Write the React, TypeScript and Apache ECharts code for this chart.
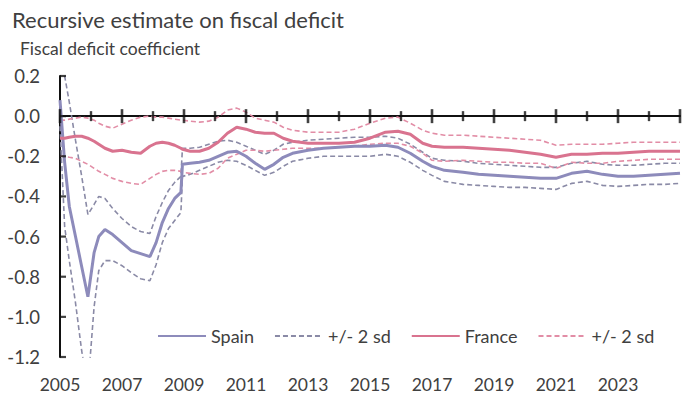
import React, { useEffect, useRef } from "react";
import * as echarts from "echarts";

const years = [2005.0, 2005.15, 2005.3, 2005.5, 2005.7, 2005.9, 2006.1, 2006.25, 2006.45, 2006.7, 2007.0, 2007.3, 2007.6, 2007.9, 2008.1, 2008.3, 2008.5, 2008.7, 2008.9, 2008.95, 2009.2, 2009.5, 2009.8, 2010.1, 2010.4, 2010.7, 2011.0, 2011.3, 2011.6, 2011.9, 2012.2, 2012.5, 2013.0, 2013.5, 2014.0, 2014.5, 2015.0, 2015.5, 2015.9, 2016.3, 2016.7, 2017.0, 2017.4, 2018.0, 2018.5, 2019.0, 2019.5, 2020.0, 2020.5, 2021.0, 2021.5, 2022.0, 2022.5, 2023.0, 2023.5, 2024.0, 2024.5, 2025.0];

const spain = [0.08, -0.23, -0.45, -0.6, -0.75, -0.9, -0.68, -0.6, -0.565, -0.59, -0.63, -0.67, -0.685, -0.7, -0.63, -0.53, -0.46, -0.41, -0.38, -0.24, -0.235, -0.23, -0.22, -0.2, -0.18, -0.175, -0.2, -0.235, -0.265, -0.24, -0.205, -0.185, -0.17, -0.16, -0.155, -0.15, -0.15, -0.145, -0.155, -0.185, -0.225, -0.25, -0.27, -0.28, -0.29, -0.295, -0.3, -0.305, -0.31, -0.31, -0.285, -0.275, -0.29, -0.3, -0.3, -0.295, -0.29, -0.285];

const spainUpper = [0.4, 0.2, 0.07, -0.12, -0.3, -0.49, -0.44, -0.4, -0.41, -0.46, -0.51, -0.55, -0.575, -0.585, -0.5, -0.43, -0.37, -0.33, -0.3, -0.16, -0.16, -0.155, -0.14, -0.125, -0.12, -0.13, -0.15, -0.17, -0.19, -0.17, -0.14, -0.13, -0.12, -0.115, -0.11, -0.105, -0.105, -0.1, -0.11, -0.14, -0.18, -0.21, -0.22, -0.225, -0.235, -0.24, -0.245, -0.25, -0.255, -0.255, -0.235, -0.225, -0.24, -0.245, -0.245, -0.24, -0.235, -0.235];

const spainLower = [-0.05, -0.55, -0.72, -0.93, -1.17, -1.35, -0.95, -0.77, -0.72, -0.72, -0.745, -0.78, -0.81, -0.82, -0.74, -0.63, -0.56, -0.52, -0.48, -0.3, -0.29, -0.27, -0.25, -0.23, -0.22, -0.225, -0.245, -0.27, -0.295, -0.28, -0.25, -0.225, -0.21, -0.2, -0.2, -0.2, -0.2, -0.19, -0.2, -0.23, -0.27, -0.295, -0.325, -0.34, -0.345, -0.35, -0.355, -0.355, -0.36, -0.365, -0.335, -0.325, -0.345, -0.35, -0.345, -0.34, -0.34, -0.335];

const france = [-0.11, -0.11, -0.105, -0.1, -0.1, -0.11, -0.125, -0.14, -0.16, -0.175, -0.17, -0.18, -0.185, -0.15, -0.135, -0.13, -0.135, -0.145, -0.16, -0.165, -0.175, -0.175, -0.16, -0.13, -0.085, -0.055, -0.065, -0.08, -0.085, -0.085, -0.11, -0.125, -0.135, -0.135, -0.135, -0.13, -0.11, -0.08, -0.075, -0.09, -0.135, -0.15, -0.155, -0.155, -0.16, -0.165, -0.17, -0.18, -0.19, -0.205, -0.19, -0.19, -0.185, -0.185, -0.18, -0.175, -0.175, -0.175];

const franceUpper = [-0.02, -0.02, -0.015, -0.01, -0.005, -0.01, -0.02, -0.035, -0.05, -0.06, -0.04, -0.02, -0.005, 0.0, -0.005, -0.005, -0.01, -0.015, -0.02, -0.02, -0.025, -0.03, -0.025, -0.005, 0.03, 0.04, 0.02, -0.01, -0.02, -0.03, -0.055, -0.07, -0.08, -0.08, -0.08, -0.065, -0.035, -0.01, -0.005, -0.035, -0.07, -0.085, -0.095, -0.095, -0.1, -0.105, -0.11, -0.115, -0.12, -0.145, -0.14, -0.14, -0.14, -0.135, -0.13, -0.13, -0.13, -0.13];

const franceLower = [-0.2, -0.2, -0.205, -0.21, -0.225, -0.24, -0.26, -0.275, -0.29, -0.31, -0.325, -0.335, -0.34, -0.31, -0.29, -0.275, -0.27, -0.27, -0.275, -0.28, -0.285, -0.29, -0.285, -0.26, -0.21, -0.19, -0.17, -0.17, -0.175, -0.17, -0.165, -0.16, -0.16, -0.16, -0.155, -0.15, -0.14, -0.135, -0.135, -0.15, -0.185, -0.22, -0.225, -0.22, -0.225, -0.23, -0.23, -0.235, -0.235, -0.26, -0.23, -0.235, -0.235, -0.225, -0.22, -0.215, -0.215, -0.215];

// yearly tick marks on the zero line: labelled (odd) years get long ticks, even years short ones
const majorTickYears = [2005, 2007, 2009, 2011, 2013, 2015, 2017, 2019, 2021, 2023, 2025];
const minorTickYears = [2006, 2008, 2010, 2012, 2014, 2016, 2018, 2020, 2022, 2024];
// y-axis tick values
const yTicks = [-1.2, -1.0, -0.8, -0.6, -0.4, -0.2, 0.0, 0.2];

const X_MIN = 2005;
const X_MAX = 2025;
const Y_MIN = -1.2;
const Y_MAX = 0.2;

const FONT = "Lato";
const TEXT = "#404040";
const AXIS_C = "#111";
const SPAIN_C = "#8D8BBB";
const SPAIN_BAND_C = "#8A8AA6";
const FRANCE_C = "#D9738F";
const FRANCE_BAND_C = "#E28DA6";

const pairs = (vals: number[]) => vals.map((v, i) => [years[i], v]);

export default function App() {
  const ref = useRef<HTMLDivElement>(null);
  useEffect(() => {
    if (!ref.current) return;
    const chart = echarts.init(ref.current, undefined, { renderer: "svg" });
    const dashed = (name: string, data: number[], color: string) => ({
      name,
      type: "line",
      data: pairs(data),
      symbol: "none",
      lineStyle: { color, width: 1.6, type: [5, 3] },
      itemStyle: { color },
      z: 2,
    });
    const solid = (name: string, data: number[], color: string) => ({
      name,
      type: "line",
      data: pairs(data),
      symbol: "none",
      lineStyle: { color, width: 3 },
      itemStyle: { color },
      z: 3,
    });
    const tickMarks = (data: number[][], size: number[], offset: number[]) => ({
      type: "scatter",
      silent: true,
      clip: false,
      z: 5,
      symbol: "rect",
      symbolSize: size,
      symbolOffset: offset,
      itemStyle: { color: AXIS_C },
      data,
    });
    chart.setOption({
      animation: false,
      title: [
        {
          text: "Recursive estimate on fiscal deficit",
          left: 7,
          top: 3,
          textStyle: { fontFamily: FONT, fontSize: 22, fontWeight: "normal", color: TEXT },
        },
        {
          text: "Fiscal deficit coefficient",
          left: 15,
          top: 34,
          textStyle: { fontFamily: FONT, fontSize: 17.5, fontWeight: "normal", color: TEXT },
        },
      ],
      legend: {
        left: 152,
        top: 322,
        itemWidth: 48,
        itemHeight: 14,
        itemGap: 20,
        data: ["Spain", "+/- 2 sd", "France", "+/- 2 sd "],
        formatter: (name: string) => name.trim(),
        itemStyle: { opacity: 0, borderWidth: 0 },
        textStyle: { fontFamily: FONT, fontSize: 18, color: TEXT },
      },
      grid: { left: 60, right: 0, top: 76, bottom: 37, containLabel: false },
      xAxis: [
        {
          type: "value",
          min: X_MIN,
          max: X_MAX,
          interval: 1,
          position: "bottom",
          axisLine: { show: true, onZero: true, lineStyle: { color: AXIS_C, width: 2 } },
          axisTick: { show: false },
          axisLabel: { show: false },
          splitLine: { show: false },
        },
        {
          type: "value",
          min: X_MIN,
          max: X_MAX,
          interval: 2,
          position: "bottom",
          axisLine: { show: false, onZero: false },
          axisTick: { show: false },
          splitLine: { show: false },
          axisLabel: {
            show: true,
            margin: 18,
            fontFamily: FONT,
            fontSize: 17.5,
            color: TEXT,
            formatter: (v: number) => (v >= X_MAX ? "" : String(Math.round(v))),
          },
        },
      ],
      yAxis: {
        type: "value",
        min: Y_MIN,
        max: Y_MAX,
        interval: 0.2,
        axisLine: { show: true, onZero: false, lineStyle: { color: AXIS_C, width: 2 } },
        axisTick: { show: false },
        splitLine: { show: false },
        axisLabel: {
          margin: 20,
          fontFamily: FONT,
          fontSize: 18.5,
          color: TEXT,
          formatter: (v: number) => v.toFixed(1),
        },
      },
      series: [
        dashed("+/- 2 sd", spainUpper, SPAIN_BAND_C),
        dashed("+/- 2 sd", spainLower, SPAIN_BAND_C),
        dashed("+/- 2 sd ", franceUpper, FRANCE_BAND_C),
        dashed("+/- 2 sd ", franceLower, FRANCE_BAND_C),
        solid("Spain", spain, SPAIN_C),
        solid("France", france, FRANCE_C),
        tickMarks(majorTickYears.map((y) => [y, 0]), [2.6, 14], [0, 0]),
        tickMarks(minorTickYears.map((y) => [y, 0]), [2.4, 10], [0, 0]),
        tickMarks(yTicks.map((v) => [X_MIN, v]), [6, 2.2], [3, 0]),
      ],
    });
    return () => chart.dispose();
  }, []);
  return (
    <div style={{ position: "fixed", left: 0, top: 0, width: 683, height: 394, background: "#fff" }}>
      <div ref={ref} style={{ width: 683, height: 394 }} />
    </div>
  );
}
